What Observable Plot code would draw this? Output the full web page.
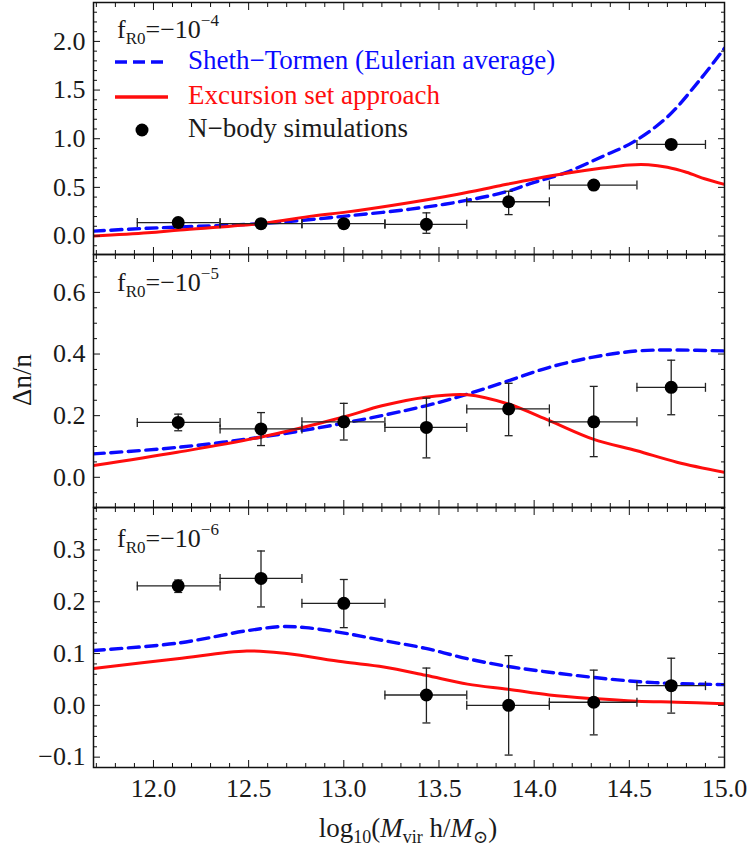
<!DOCTYPE html>
<html>
<head>
<meta charset="utf-8">
<script src="https://cdn.jsdelivr.net/npm/d3@7"></script>
<script src="https://cdn.jsdelivr.net/npm/@observablehq/plot@0.6"></script>
<style>
  html, body { margin: 0; padding: 0; background: #fff; }
  #wrap { position: relative; width: 747px; height: 850px; font-family: "Liberation Serif", "DejaVu Serif", serif; color: #1a1a1a; }
  #wrap svg { display: block; overflow: visible; }
  #wrap svg text { font-family: "Liberation Serif", serif !important; }
  .ov { position: absolute; white-space: nowrap; line-height: 1; }
  .lab { font-size: 26px; }
  .lab sub { font-size: 17px; vertical-align: -6px; }
  .lab sup { font-size: 17px; vertical-align: 12px; }
  .leg { font-size: 27px; }
</style>
</head>
<body>
<div id="wrap"></div>
<script>
// ---------- data ----------
const xDomain = [11.685, 15.0];
const xMajor = [12.0, 12.5, 13.0, 13.5, 14.0, 14.5, 15.0];
const xMinor = [11.7, 11.8, 11.9, 12.1, 12.2, 12.3, 12.4, 12.6, 12.7, 12.8, 12.9, 13.1, 13.2, 13.3, 13.4, 13.6, 13.7, 13.8, 13.9, 14.1, 14.2, 14.3, 14.4, 14.6, 14.7, 14.8, 14.9];

// N-body bins (shared by all panels)
const binCenter = [12.13, 12.565, 13.0, 13.434, 13.866, 14.313, 14.72];
const binLow    = [11.915, 12.35, 12.78, 13.216, 13.646, 14.08, 14.54];
const binHigh   = [12.35, 12.78, 13.216, 13.646, 14.08, 14.54, 14.90];

// panel 1: fR0 = -1e-4
const p1Y  = [0.138, 0.127, 0.127, 0.12, 0.352, 0.524, 0.941];
const p1Lo = [0.11, 0.10, 0.10, 0.028, 0.22, 0.50, 0.92];
const p1Hi = [0.165, 0.15, 0.15, 0.238, 0.46, 0.55, 0.965];
const p1BlueX = [11.685, 11.97, 12.14, 12.56, 12.84, 13.02, 13.35, 13.6, 13.84, 14.0, 14.17, 14.35, 14.52, 14.7, 14.87, 15.0];
const p1BlueY = [0.05, 0.08, 0.093, 0.127, 0.172, 0.207, 0.276, 0.35, 0.448, 0.551, 0.655, 0.81, 0.965, 1.224, 1.603, 1.93];
const p1RedX = [11.685, 11.97, 12.14, 12.56, 12.84, 13.02, 13.35, 13.6, 13.82, 14.0, 14.17, 14.35, 14.5, 14.6, 14.7, 14.8, 14.9, 15.0];
const p1RedY = [0.0, 0.034, 0.062, 0.127, 0.207, 0.248, 0.345, 0.43, 0.517, 0.586, 0.644, 0.696, 0.73, 0.732, 0.706, 0.655, 0.586, 0.53];
const p1YMajor = [0.0, 0.5, 1.0, 1.5, 2.0];
const p1YMinor = [-0.1, 0.1, 0.2, 0.3, 0.4, 0.6, 0.7, 0.8, 0.9, 1.1, 1.2, 1.3, 1.4, 1.6, 1.7, 1.8, 1.9, 2.1, 2.2, 2.3];
const p1YDomain = [-0.19, 2.40];

// panel 2: fR0 = -1e-5
const p2Y  = [0.178, 0.157, 0.18, 0.162, 0.222, 0.18, 0.292];
const p2Lo = [0.151, 0.103, 0.121, 0.063, 0.135, 0.067, 0.203];
const p2Hi = [0.205, 0.21, 0.24, 0.257, 0.305, 0.295, 0.38];
const p2BlueX = [11.685, 12.125, 12.56, 12.994, 13.43, 13.65, 13.864, 14.08, 14.31, 14.54, 14.75, 15.0];
const p2BlueY = [0.076, 0.097, 0.13, 0.175, 0.232, 0.27, 0.313, 0.357, 0.39, 0.41, 0.413, 0.41];
const p2RedX = [11.685, 12.125, 12.56, 12.994, 13.2, 13.43, 13.65, 13.864, 14.08, 14.31, 14.54, 14.75, 15.0];
const p2RedY = [0.038, 0.081, 0.13, 0.195, 0.232, 0.26, 0.268, 0.238, 0.184, 0.124, 0.086, 0.049, 0.016];
const p2YMajor = [0.0, 0.2, 0.4, 0.6];
const p2YMinor = [-0.05, 0.05, 0.1, 0.15, 0.25, 0.3, 0.35, 0.45, 0.5, 0.55, 0.65, 0.7];
const p2YDomain = [-0.098, 0.723];

// panel 3: fR0 = -1e-6
const p3Y  = [0.2305, 0.245, 0.197, 0.02, 0.0, 0.006, 0.038];
const p3Lo = [0.218, 0.19, 0.15, -0.034, -0.096, -0.057, -0.015];
const p3Hi = [0.242, 0.298, 0.243, 0.072, 0.096, 0.068, 0.091];
const p3BlueX = [11.685, 12.125, 12.49, 12.67, 12.8, 12.994, 13.21, 13.43, 13.65, 13.864, 14.08, 14.31, 14.54, 14.75, 15.0];
const p3BlueY = [0.106, 0.12, 0.144, 0.152, 0.15, 0.14, 0.125, 0.11, 0.09, 0.075, 0.064, 0.054, 0.046, 0.042, 0.04];
const p3RedX = [11.685, 12.125, 12.49, 12.70, 12.994, 13.21, 13.43, 13.65, 13.864, 14.08, 14.31, 14.54, 14.75, 15.0];
const p3RedY = [0.071, 0.09, 0.105, 0.10, 0.084, 0.074, 0.058, 0.041, 0.031, 0.02, 0.013, 0.008, 0.006, 0.003];
const p3YMajor = [-0.1, 0.0, 0.1, 0.2, 0.3];
const p3YMinor = [-0.12, -0.08, -0.06, -0.04, -0.02, 0.02, 0.04, 0.06, 0.08, 0.12, 0.14, 0.16, 0.18, 0.22, 0.24, 0.26, 0.28, 0.32, 0.34, 0.36, 0.38];
const p3YDomain = [-0.12, 0.382];

const panelExp = ["−4", "−5", "−6"];
const legendLabels = ["Sheth−Tormen (Eulerian average)", "Excursion set approach", "N−body simulations"];
const yLabel = "Δn/n";

// ---------- drawing ----------
const BLUE = "#0a0aff", RED = "#ff0d0d";
const FONT = "'Liberation Serif', serif";
const fmt = d3.format(".1f");
const capV = {draw(ctx, size) { const r = Math.sqrt(size / Math.PI); ctx.moveTo(0, -r); ctx.lineTo(0, r); }};
const capH = {draw(ctx, size) { const r = Math.sqrt(size / Math.PI); ctx.moveTo(-r, 0); ctx.lineTo(r, 0); }};

function points(Y, Lo, Hi) {
  return binCenter.map((x, i) => ({x, y: Y[i], lo: Lo[i], hi: Hi[i], xlo: binLow[i], xhi: binHigh[i]}));
}
function curve(X, Y) { return X.map((x, i) => ({x, y: Y[i]})); }

function panel({pts, blue, red, yDomain, yMajor, yMinor, height, marginTop, marginBottom, xLabels}) {
  const noText = () => "";
  const marks = [
    Plot.line(blue, {x: "x", y: "y", stroke: BLUE, strokeWidth: 3.4, strokeDasharray: "11,6.5", curve: "catmull-rom", clip: true}),
    Plot.line(red, {x: "x", y: "y", stroke: RED, strokeWidth: 3, curve: "catmull-rom", clip: true}),
    Plot.ruleY(pts, {y: "y", x1: "xlo", x2: "xhi", stroke: "#222", strokeWidth: 1.3}),
    Plot.ruleX(pts, {x: "x", y1: "lo", y2: "hi", stroke: "#222", strokeWidth: 1.3}),
    Plot.dot(pts, {x: "xlo", y: "y", symbol: capV, r: 4.5, stroke: "#222", strokeWidth: 1.3, fill: "none"}),
    Plot.dot(pts, {x: "xhi", y: "y", symbol: capV, r: 4.5, stroke: "#222", strokeWidth: 1.3, fill: "none"}),
    Plot.dot(pts, {x: "x", y: "lo", symbol: capH, r: 4, stroke: "#222", strokeWidth: 1.3, fill: "none"}),
    Plot.dot(pts, {x: "x", y: "hi", symbol: capH, r: 4, stroke: "#222", strokeWidth: 1.3, fill: "none"}),
    Plot.dot(pts, {x: "x", y: "y", r: 6.5, fill: "black", stroke: "none"}),
    Plot.frame({stroke: "#111", strokeWidth: 1.5}),
    Plot.axisX(xMajor, {anchor: "bottom", tickSize: -7, tickFormat: noText, label: null, stroke: "#111"}),
    Plot.axisX(xMinor, {anchor: "bottom", tickSize: -4, tickFormat: noText, label: null, stroke: "#111"}),
    Plot.axisX(xMajor, {anchor: "top", tickSize: -7, tickFormat: noText, label: null, stroke: "#111"}),
    Plot.axisX(xMinor, {anchor: "top", tickSize: -4, tickFormat: noText, label: null, stroke: "#111"}),
    Plot.axisY(yMajor, {anchor: "left", tickSize: -7, tickFormat: noText, label: null, stroke: "#111"}),
    Plot.axisY(yMinor, {anchor: "left", tickSize: -4, tickFormat: noText, label: null, stroke: "#111"}),
    Plot.axisY(yMajor, {anchor: "right", tickSize: -7, tickFormat: noText, label: null, stroke: "#111"}),
    Plot.axisY(yMinor, {anchor: "right", tickSize: -4, tickFormat: noText, label: null, stroke: "#111"}),
    Plot.axisY(yMajor, {anchor: "left", tickSize: 0, tickPadding: 8, tickFormat: fmt, label: null, fill: "#1a1a1a", fontFamily: FONT, fontSize: 26})
  ];
  if (xLabels) marks.push(Plot.axisX(xMajor, {anchor: "bottom", tickSize: 0, tickPadding: 11, tickFormat: fmt, label: null, fill: "#1a1a1a", fontFamily: FONT, fontSize: 26}));
  return Plot.plot({
    width: 747, height, marginLeft: 93, marginRight: 23, marginTop, marginBottom,
    x: {domain: xDomain, label: null},
    y: {domain: yDomain, label: null},
    style: "font-family: 'Liberation Serif', serif; font-size: 26px; background: white; overflow: visible;",
    marks
  });
}

const wrap = document.getElementById("wrap");
wrap.append(panel({pts: points(p1Y, p1Lo, p1Hi), blue: curve(p1BlueX, p1BlueY), red: curve(p1RedX, p1RedY),
  yDomain: p1YDomain, yMajor: p1YMajor, yMinor: p1YMinor, height: 254, marginTop: 2, marginBottom: 0}));
wrap.append(panel({pts: points(p2Y, p2Lo, p2Hi), blue: curve(p2BlueX, p2BlueY), red: curve(p2RedX, p2RedY),
  yDomain: p2YDomain, yMajor: p2YMajor, yMinor: p2YMinor, height: 253, marginTop: 0, marginBottom: 0}));
wrap.append(panel({pts: points(p3Y, p3Lo, p3Hi), blue: curve(p3BlueX, p3BlueY), red: curve(p3RedX, p3RedY),
  yDomain: p3YDomain, yMajor: p3YMajor, yMinor: p3YMinor, height: 343, marginTop: 0, marginBottom: 83, xLabels: true}));

// panel labels
const labelTops = [12, 265, 521];
panelExp.forEach((e, i) => {
  const d = document.createElement("div");
  d.className = "ov lab";
  d.style.left = "117px"; d.style.top = labelTops[i] + "px";
  d.innerHTML = `f<sub>R0</sub>=−10<sup>${e}</sup>`;
  wrap.append(d);
});

// legend (top panel)
const ns = "http://www.w3.org/2000/svg";
const lg = document.createElementNS(ns, "svg");
lg.setAttribute("width", 70); lg.setAttribute("height", 100);
lg.style.position = "absolute"; lg.style.left = "105px"; lg.style.top = "45px";
lg.innerHTML = `<line x1="10" x2="63" y1="17" y2="17" stroke="${BLUE}" stroke-width="3.6" stroke-dasharray="12,6"/>
<line x1="10" x2="63" y1="52" y2="52" stroke="${RED}" stroke-width="3.6"/>
<circle cx="37" cy="85" r="6.5" fill="black"/>`;
wrap.append(lg);
const legColors = [BLUE, RED, "#1a1a1a"];
const legTops = [47, 82, 115];
legendLabels.forEach((t, i) => {
  const d = document.createElement("div");
  d.className = "ov leg";
  d.style.left = "188px"; d.style.top = legTops[i] + "px"; d.style.color = legColors[i];
  d.textContent = t;
  wrap.append(d);
});

// y label
const yl = document.createElement("div");
yl.className = "ov";
yl.style.cssText += "left:22px;top:380px;font-size:27px;transform:translate(-50%,-50%) rotate(-90deg);";
yl.textContent = yLabel;
wrap.append(yl);

// x label
const xl = document.createElement("div");
xl.className = "ov";
xl.style.cssText += "left:408px;top:815px;font-size:27px;transform:translateX(-50%);";
xl.innerHTML = `log<sub style="font-size:18px;vertical-align:-6px">10</sub>(<i>M</i><sub style="font-size:18px;vertical-align:-6px">vir</sub> h/<i>M</i><sub style="font-size:18px;vertical-align:-6px">⊙</sub>)`;
wrap.append(xl);
</script>
</body>
</html>
